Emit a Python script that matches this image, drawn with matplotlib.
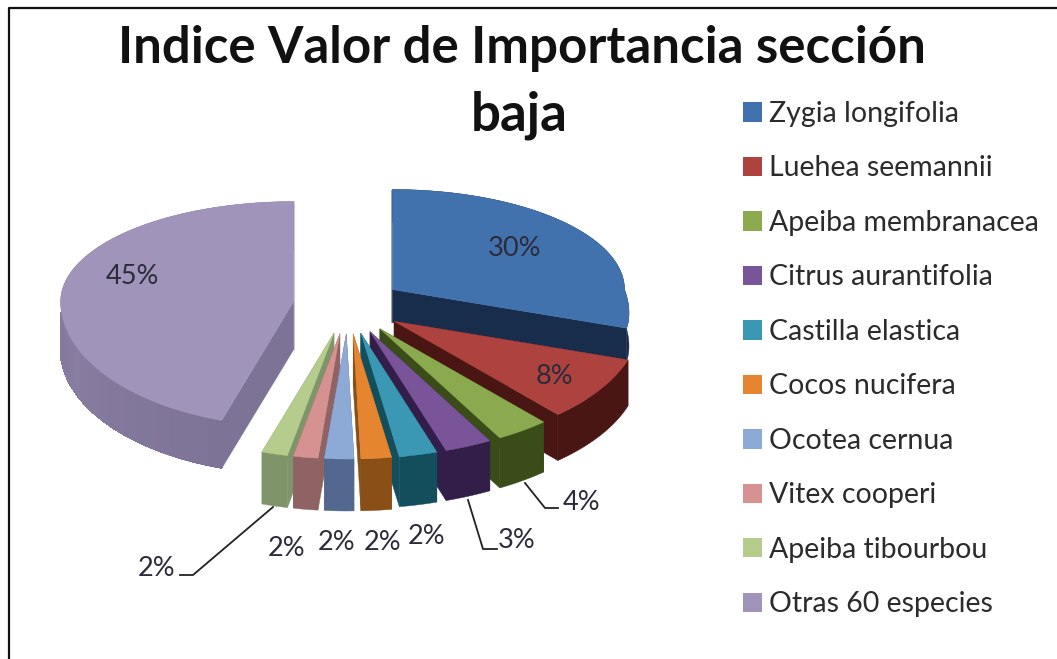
import numpy as np
import matplotlib
matplotlib.use('Agg')
import matplotlib.pyplot as plt
from matplotlib.patches import Patch

especies = ['Zygia longifolia', 'Luehea seemannii', 'Apeiba membranacea', 'Citrus aurantifolia',
            'Castilla elastica', 'Cocos nucifera', 'Ocotea cernua', 'Vitex cooperi',
            'Apeiba tibourbou', 'Otras 60 especies']
valores = [30.0, 8.4, 3.5, 3.1, 2.5, 2.0, 2.0, 1.7, 1.8, 45.0]

color_cara = ['#4272AE', '#AE423E', '#8BA94F', '#7A5499', '#3A98B5',
              '#E5852F', '#8DA9D6', '#D69290', '#B5CC8C', '#A194BA']
color_lado = ['#182D4C', '#4A1613', '#3A4C17', '#321E49', '#134E5D',
              '#8A4E17', '#52688F', '#8F6263', '#7F9469', '#7D7396']
profundidad = [33, 46, 50, 50, 50, 52, 52, 52, 52, 48]

# where the labels sit, pixels of the reference
pos_etiqueta = [(515, 248), (554, 376), (582, 502), (517, 541), (427, 537),
                (383, 542), (337, 543), (287, 548), (157, 568), (132, 276)]
guias = {2: [(525, 483), (545, 508), (558, 508)],
         3: [(468, 500), (483, 549), (497, 549)],
         8: [(273, 507), (193, 575), (180, 575)]}

cx, cy = 348, 306
rx_atras, rx_der, rx_izq = 232, 246, 233
ry_atras, ry_frente = 100, 125
ex, ey = 55, 28

plt.rcParams['font.family'] = ['Lato', 'DejaVu Sans']
fig = plt.figure(figsize=(10.57, 6.59), dpi=100, facecolor='white')
ax = fig.add_axes([0, 0, 1, 1])
ax.set_xlim(0, 1057)
ax.set_ylim(659, 0)
ax.axis('off')


def borde(theta, x0, y0):
    c, s = np.cos(theta), np.sin(theta)
    rx_d = rx_atras + (rx_der - rx_atras) * np.clip(-s / 0.3, 0, 1)
    x = x0 + np.where(c >= 0, rx_d, rx_izq) * c
    y = y0 - np.where(s >= 0, ry_atras, ry_frente) * s
    return x, y


def mezcla(c1, c2, t):
    a = np.array(matplotlib.colors.to_rgb(c1))
    b = np.array(matplotlib.colors.to_rgb(c2))
    return tuple(a * (1 - t) + b * t)


acum = np.cumsum([0] + valores)
total = acum[-1]
inicio = np.radians(90 - 360 * acum[:-1] / total)
fin = np.radians(90 - 360 * acum[1:] / total)

for i in [9, 0, 1, 2, 3, 4, 5, 8, 7, 6]:
    medio = (inicio[i] + fin[i]) / 2
    x0 = cx + ex * np.cos(medio)
    y0 = cy - ey * np.sin(medio)
    d = profundidad[i]
    th = np.linspace(inicio[i], fin[i], 80)
    xb, yb = borde(th, x0, y0)

    # radial walls
    for k in (0, -1):
        ax.fill([x0, xb[k], xb[k], x0], [y0, yb[k], yb[k] + d, y0 + d],
                color=color_lado[i], lw=0.3)
    # outer wall, the big slice gets a soft gradient on its front part
    ax.fill(np.r_[xb, xb[::-1]], np.r_[yb, yb[::-1] + d], color=color_lado[i], lw=0.3)
    if valores[i] > 40:
        for k in range(len(th) - 1):
            grados = np.degrees(th[k])
            if grados < -175:
                continue
            t = np.clip((grados + 180) / 72, 0, 1)
            col = mezcla(color_lado[i], color_cara[i], 0.3 * (1 - abs(t - 0.3) / 0.7))
            ax.fill([xb[k], xb[k + 1], xb[k + 1], xb[k]],
                    [yb[k] + 1, yb[k + 1] + 1, yb[k + 1] + d - 1, yb[k] + d - 1],
                    color=col, lw=1, antialiased=False)
    # top face
    ax.fill(np.r_[x0, xb], np.r_[y0, yb], color=color_cara[i], lw=0.3, zorder=3)

for i, (x, y) in enumerate(pos_etiqueta):
    ax.text(x, y, f'{valores[i]:.0f}%', fontsize=19.5, color='#2B2B3A', ha='center', va='center', zorder=5)

for puntos in guias.values():
    xs, ys = zip(*puntos)
    ax.plot(xs, ys, color='#222222', lw=1.3, zorder=4)

ax.text(522, 63, 'Indice Valor de Importancia sección', fontsize=36.7, fontweight='bold',
        color='#111111', ha='center', va='baseline')
ax.text(519, 131, 'baja', fontsize=38, fontweight='bold', color='#111111', ha='center', va='baseline')

handles = [Patch(facecolor=c, edgecolor='none') for c in color_cara]
ax.legend(handles, especies, loc='upper left', bbox_to_anchor=(743, 101), bbox_transform=ax.transData,
          frameon=False, fontsize=20.5, handlelength=0.667, handleheight=0.667, handletextpad=0.25,
          labelspacing=1.0, borderpad=0, borderaxespad=0, labelcolor='#2B2B2B')

# frame of the screenshot, only top and left are visible
ax.plot([9, 9, 1057], [659, 8, 8], color='#111111', lw=1.6, clip_on=False)

fig.savefig('out.png', dpi=100)
